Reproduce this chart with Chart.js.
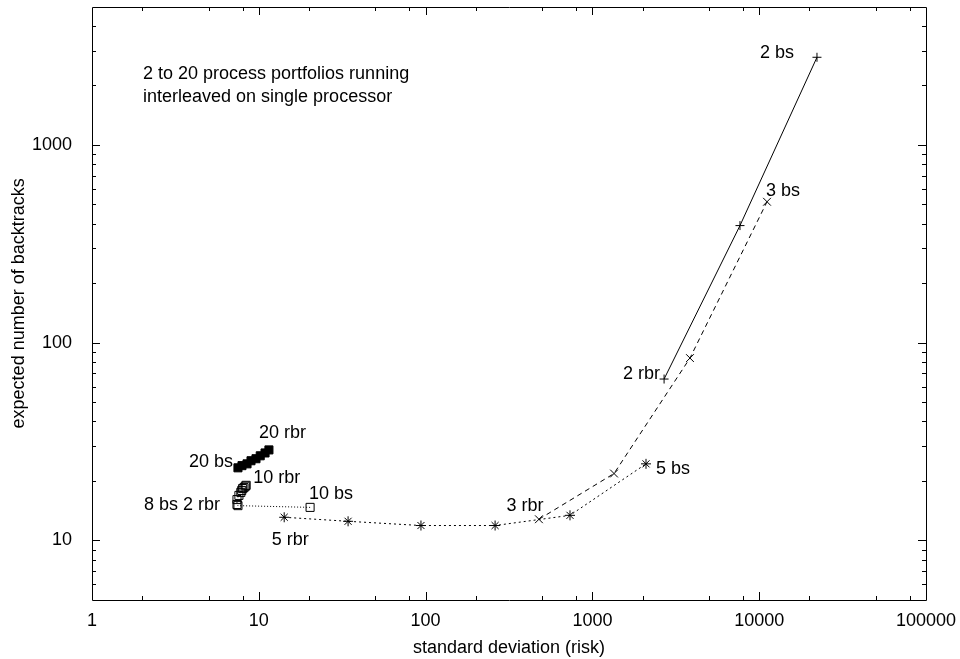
<!DOCTYPE html>
<html>
<head>
<meta charset="utf-8">
<script src="https://cdn.jsdelivr.net/npm/chart.js@4.4.1/dist/chart.umd.min.js"></script>
<style>
  html, body { margin: 0; padding: 0; background: #fff; }
  #wrap { width: 960px; height: 659px; }
</style>
</head>
<body>
<div id="wrap"><canvas id="chart"></canvas></div>
<script>
// values (x = std deviation, y = expected backtracks)
var twoX = [2690, 7670, 22200];
var twoY = [65.5, 391, 2775];

var threeX = [478, 1348, 3846, 11140];
var threeY = [12.8, 21.8, 83.6, 516];

var fiveX = [14.2, 34.3, 93.8, 261, 734, 2096];
var fiveY = [13.1, 12.5, 11.9, 11.9, 13.4, 24.4];

var tenX = [20.3, 7.5, 7.4, 7.4, 7.6, 7.8, 7.9, 8.0, 8.15, 8.3, 8.4];
var tenY = [14.7, 15.0, 15.2, 16.1, 16.9, 17.5, 17.9, 18.3, 18.5, 18.8, 19.0];

var twentyX = [7.5, 7.93, 8.5, 8.98, 9.62, 10.2, 10.9, 11.5];
var twentyY = [23.3, 23.9, 24.4, 25.3, 25.9, 26.8, 27.7, 28.7];

var xTicks = [1, 10, 100, 1000, 10000, 100000];
var yTicks = [10, 100, 1000];

var noteLines = ['2 to 20 process portfolios running', 'interleaved on single processor'];

var FONT = '"Liberation Sans", Arial, Helvetica, sans-serif';

function pts(xs, ys) {
    var out = [];
    for (var i = 0; i < xs.length; i++) out.push({x: xs[i], y: ys[i]});
    return out;
}

// point labels: dataset, point index, pixel offset, alignment
var pointLabels = [
    {text: '2 bs', ds: 0, i: 2, dx: -23, dy: -4, align: 'right'},
    {text: '2 rbr', ds: 0, i: 0, dx: -4, dy: -5, align: 'right'},
    {text: '3 bs', ds: 1, i: 3, dx: -1, dy: -11, align: 'left'},
    {text: '3 rbr', ds: 1, i: 0, dx: -14, dy: -13, align: 'center'},
    {text: '5 bs', ds: 2, i: 5, dx: 10, dy: 5, align: 'left'},
    {text: '5 rbr', ds: 2, i: 0, dx: 6, dy: 23, align: 'center'},
    {text: '10 bs', ds: 3, i: 0, dx: -1, dy: -13, align: 'left'},
    {text: '8 bs 2 rbr', ds: 3, i: 2, dx: -17, dy: 1, align: 'right'},
    {text: '10 rbr', ds: 3, i: 10, dx: 7, dy: -7, align: 'left'},
    {text: '20 bs', ds: 4, i: 0, dx: -5, dy: -6, align: 'right'},
    {text: '20 rbr', ds: 4, i: 7, dx: -10, dy: -17, align: 'left'}
];

var framePlugin = {
    id: 'frame',
    afterDraw: function (chart) {
        var ctx = chart.ctx;
        var xs = chart.scales.x, ys = chart.scales.y;
        // plot box taken from the scales themselves
        var L = Math.round(xs.getPixelForValue(xs.min)), R = Math.round(xs.getPixelForValue(xs.max));
        var B = Math.round(ys.getPixelForValue(ys.min)), T = Math.round(ys.getPixelForValue(ys.max));
        ctx.save();
        ctx.strokeStyle = '#000';
        ctx.lineWidth = 1;
        ctx.beginPath();
        ctx.rect(L + 0.5, T + 0.5, R - L, B - T);
        ctx.stroke();

        ctx.beginPath();
        // x ticks, bottom and top
        for (var d = 1; d <= 100000; d *= 10) {
            [1, 2, 5, 8].forEach(function (m) {
                var v = d * m;
                if (v <= 1 || v >= 100000) return;
                var len = m === 1 ? 8 : 4;
                var px = Math.round(xs.getPixelForValue(v)) + 0.5;
                ctx.moveTo(px, B); ctx.lineTo(px, B - len);
                ctx.moveTo(px, T); ctx.lineTo(px, T + len);
            });
        }
        // y ticks, left and right
        for (var e = 1; e <= 1000; e *= 10) {
            for (var m = 1; m <= 9; m++) {
                var v = e * m;
                if (v <= 5 || v >= 5000) continue;
                var len = m === 1 ? 8 : 4;
                var py = Math.round(ys.getPixelForValue(v)) + 0.5;
                ctx.moveTo(L, py); ctx.lineTo(L + len, py);
                ctx.moveTo(R, py); ctx.lineTo(R - len, py);
            }
        }
        ctx.stroke();

        // text
        ctx.fillStyle = '#000';
        ctx.font = '18px ' + FONT;
        ctx.textBaseline = 'middle';
        pointLabels.forEach(function (l) {
            var p = chart.getDatasetMeta(l.ds).data[l.i];
            ctx.textAlign = l.align;
            ctx.fillText(l.text, p.x + l.dx, p.y + l.dy);
        });
        ctx.textAlign = 'left';
        noteLines.forEach(function (t, k) {
            ctx.fillText(t, L + 51, T + 67 + k * 23);
        });
        ctx.restore();
    }
};

function base(label, xs, ys) {
    return {
        label: label,
        data: pts(xs, ys),
        showLine: true,
        fill: false,
        clip: false,
        borderColor: '#000',
        borderWidth: 1,
        pointBorderColor: '#000',
        pointBorderWidth: 1,
        pointBackgroundColor: 'rgba(0,0,0,0)',
        pointHoverRadius: 0
    };
}

var d2 = base('2', twoX, twoY);
d2.pointStyle = 'cross'; d2.pointRadius = 4.5;

var d3 = base('3', threeX, threeY);
d3.pointStyle = 'crossRot'; d3.pointRadius = 5.5; d3.borderDash = [5, 4];

var d5 = base('5', fiveX, fiveY);
d5.pointStyle = 'star'; d5.pointRadius = 5; d5.borderDash = [2, 3];

var d10 = base('10', tenX, tenY);
d10.pointStyle = 'rect'; d10.pointRadius = 5.7; d10.borderDash = [1, 2];

var d20 = base('20', twentyX, twentyY);
d20.pointStyle = 'rect'; d20.pointRadius = 5.7; d20.borderDash = [6, 3, 1, 3];
d20.pointBackgroundColor = '#000';

new Chart(document.getElementById('chart'), {
    type: 'scatter',
    data: { datasets: [d2, d3, d5, d10, d20] },
    options: {
        responsive: true,
        maintainAspectRatio: false,
        animation: false,
        events: [],
        layout: { padding: { top: 6, right: 34, left: 0, bottom: 0 } },
        plugins: { legend: { display: false }, tooltip: { enabled: false } },
        scales: {
            x: {
                type: 'logarithmic',
                min: 1, max: 100000,
                grid: { display: false },
                border: { display: false },
                afterBuildTicks: function (s) { s.ticks = xTicks.map(function (v) { return {value: v}; }); },
                afterFit: function (s) { s.height = 59; s.paddingLeft = 0; s.paddingRight = 0; },
                ticks: {
                    color: '#000', padding: 2, autoSkip: false, maxRotation: 0,
                    font: { family: FONT, size: 18 },
                    callback: function (v) { return String(v); }
                },
                title: {
                    display: true, text: 'standard deviation (risk)', color: '#000',
                    font: { family: FONT, size: 18 }, padding: { top: 0, bottom: 0 }
                }
            },
            y: {
                type: 'logarithmic',
                min: 5, max: 5000,
                grid: { display: false },
                border: { display: false },
                afterBuildTicks: function (s) { s.ticks = yTicks.map(function (v) { return {value: v}; }); },
                afterFit: function (s) { s.width = 92; s.paddingTop = 0; s.paddingBottom = 0; },
                ticks: {
                    color: '#000', padding: 12, autoSkip: false,
                    font: { family: FONT, size: 18 },
                    callback: function (v) { return String(v); }
                },
                title: {
                    display: true, text: 'expected number of backtracks', color: '#000',
                    font: { family: FONT, size: 18 }, padding: { top: 8, bottom: 0 }
                }
            }
        }
    },
    plugins: [framePlugin]
});
</script>
</body>
</html>
